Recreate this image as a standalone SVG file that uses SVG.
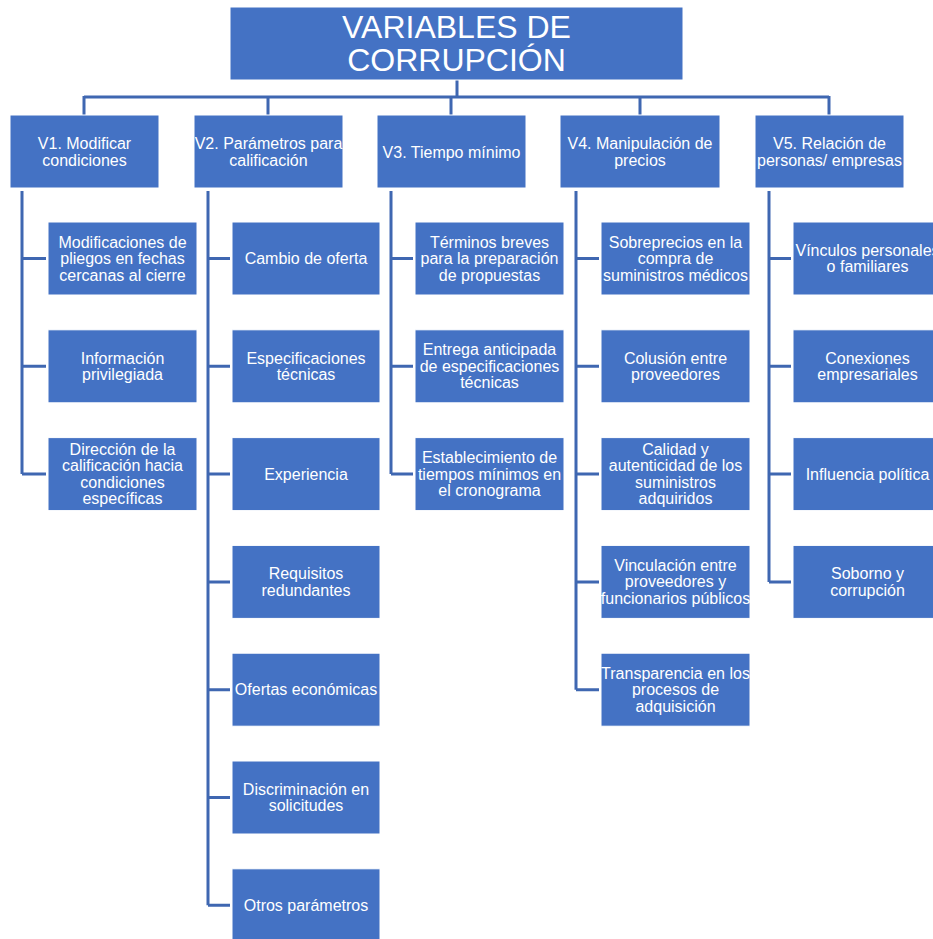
<svg xmlns="http://www.w3.org/2000/svg" width="933" height="939" viewBox="0 0 933 939">
<style>
.b{fill:#4472C4;stroke:#ffffff;stroke-width:1}
.t{font-family:"Liberation Sans",Arial,sans-serif;font-size:16px;fill:#ffffff;text-anchor:middle}
.h{font-family:"Liberation Sans",Arial,sans-serif;font-size:32px;fill:#ffffff;text-anchor:middle}
.c{fill:none;stroke:#3F67B1;stroke-width:3}
</style>
<rect width="933" height="939" fill="#ffffff"/>
<g id="connectors">
<path class="c" d="M457 80V97M84 97H829M84 96V115M268 96V115M451 96V115M640 96V115M829 96V115"/>
<path class="c" d="M22 191V474.1M22 258.5H46M22 366.3H46M22 474.1H46"/>
<path class="c" d="M208 191V905.3M208 258.5H230M208 366.3H230M208 474.1H230M208 581.9H230M208 689.7H230M208 797.5H230M208 905.3H230"/>
<path class="c" d="M391 191V474.1M391 258.5H413M391 366.3H413M391 474.1H413"/>
<path class="c" d="M576 191V689.7M576 258.5H599M576 366.3H599M576 474.1H599M576 581.9H599M576 689.7H599"/>
<path class="c" d="M769 191V581.9M769 258.5H791M769 366.3H791M769 474.1H791M769 581.9H791"/>
</g>
<g id="root"><rect class="b" x="230" y="7" width="453" height="73"/><text class="h"><tspan x="456.5" y="38">VARIABLES DE</tspan><tspan x="456.5" y="71">CORRUPCIÓN</tspan></text></g>
<g id="v1"><rect class="b" x="10" y="115" width="149" height="73"/><text class="t"><tspan x="84.5" y="149">V1. Modificar</tspan><tspan x="84.5" y="165.5">condiciones</tspan></text></g>
<g id="v2"><rect class="b" x="194" y="115" width="149" height="73"/><text class="t"><tspan x="268.5" y="149">V2. Parámetros para</tspan><tspan x="268.5" y="165.5">calificación</tspan></text></g>
<g id="v3"><rect class="b" x="377" y="115" width="149" height="73"/><text class="t"><tspan x="451.5" y="157.5">V3. Tiempo mínimo</tspan></text></g>
<g id="v4"><rect class="b" x="560" y="115" width="160" height="73"/><text class="t"><tspan x="640" y="149">V4. Manipulación de</tspan><tspan x="640" y="165.5">precios</tspan></text></g>
<g id="v5"><rect class="b" x="755" y="115" width="149" height="73"/><text class="t"><tspan x="829.5" y="149">V5. Relación de</tspan><tspan x="829.5" y="165.5">personas/ empresas</tspan></text></g>

<g id="v1a"><rect class="b" x="48" y="222" width="149" height="73"/><text class="t"><tspan x="122.5" y="247.5">Modificaciones de</tspan><tspan x="122.5" y="264">pliegos en fechas</tspan><tspan x="122.5" y="280.5">cercanas al cierre</tspan></text></g>
<g id="v1b"><rect class="b" x="48" y="329.8" width="149" height="73"/><text class="t"><tspan x="122.5" y="363.5">Información</tspan><tspan x="122.5" y="380">privilegiada</tspan></text></g>
<g id="v1c"><rect class="b" x="48" y="437.6" width="149" height="73"/><text class="t"><tspan x="122.5" y="454.8">Dirección de la</tspan><tspan x="122.5" y="471.3">calificación hacia</tspan><tspan x="122.5" y="487.8">condiciones</tspan><tspan x="122.5" y="504.3">específicas</tspan></text></g>

<g id="v2a"><rect class="b" x="232" y="222" width="148" height="73"/><text class="t"><tspan x="306" y="264">Cambio de oferta</tspan></text></g>
<g id="v2b"><rect class="b" x="232" y="329.8" width="148" height="73"/><text class="t"><tspan x="306" y="363.5">Especificaciones</tspan><tspan x="306" y="380">técnicas</tspan></text></g>
<g id="v2c"><rect class="b" x="232" y="437.6" width="148" height="73"/><text class="t"><tspan x="306" y="479.6">Experiencia</tspan></text></g>
<g id="v2d"><rect class="b" x="232" y="545.4" width="148" height="73"/><text class="t"><tspan x="306" y="579.1">Requisitos</tspan><tspan x="306" y="595.6">redundantes</tspan></text></g>
<g id="v2e"><rect class="b" x="232" y="653.2" width="148" height="73"/><text class="t"><tspan x="306" y="695.2">Ofertas económicas</tspan></text></g>
<g id="v2f"><rect class="b" x="232" y="761" width="148" height="73"/><text class="t"><tspan x="306" y="794.7">Discriminación en</tspan><tspan x="306" y="811.2">solicitudes</tspan></text></g>
<g id="v2g"><rect class="b" x="232" y="868.8" width="148" height="73"/><text class="t"><tspan x="306" y="910.8">Otros parámetros</tspan></text></g>

<g id="v3a"><rect class="b" x="415" y="222" width="149" height="73"/><text class="t"><tspan x="489.5" y="247.5">Términos breves</tspan><tspan x="489.5" y="264">para la preparación</tspan><tspan x="489.5" y="280.5">de propuestas</tspan></text></g>
<g id="v3b"><rect class="b" x="415" y="329.8" width="149" height="73"/><text class="t"><tspan x="489.5" y="355.3">Entrega anticipada</tspan><tspan x="489.5" y="371.8">de especificaciones</tspan><tspan x="489.5" y="388.3">técnicas</tspan></text></g>
<g id="v3c"><rect class="b" x="415" y="437.6" width="149" height="73"/><text class="t"><tspan x="489.5" y="463.1">Establecimiento de</tspan><tspan x="489.5" y="479.6">tiempos mínimos en</tspan><tspan x="489.5" y="496.1">el cronograma</tspan></text></g>

<g id="v4a"><rect class="b" x="601" y="222" width="149" height="73"/><text class="t"><tspan x="675.5" y="247.5">Sobreprecios en la</tspan><tspan x="675.5" y="264">compra de</tspan><tspan x="675.5" y="280.5">suministros médicos</tspan></text></g>
<g id="v4b"><rect class="b" x="601" y="329.8" width="149" height="73"/><text class="t"><tspan x="675.5" y="363.5">Colusión entre</tspan><tspan x="675.5" y="380">proveedores</tspan></text></g>
<g id="v4c"><rect class="b" x="601" y="437.6" width="149" height="73"/><text class="t"><tspan x="675.5" y="454.8">Calidad y</tspan><tspan x="675.5" y="471.3">autenticidad de los</tspan><tspan x="675.5" y="487.8">suministros</tspan><tspan x="675.5" y="504.3">adquiridos</tspan></text></g>
<g id="v4d"><rect class="b" x="601" y="545.4" width="149" height="73"/><text class="t"><tspan x="675.5" y="570.9">Vinculación entre</tspan><tspan x="675.5" y="587.4">proveedores y</tspan><tspan x="675.5" y="603.9">funcionarios públicos</tspan></text></g>
<g id="v4e"><rect class="b" x="601" y="653.2" width="149" height="73"/><text class="t"><tspan x="675.5" y="678.7">Transparencia en los</tspan><tspan x="675.5" y="695.2">procesos de</tspan><tspan x="675.5" y="711.7">adquisición</tspan></text></g>

<g id="v5a"><rect class="b" x="793" y="222" width="149" height="73"/><text class="t"><tspan x="867.5" y="255.7">Vínculos personales</tspan><tspan x="867.5" y="272.2">o familiares</tspan></text></g>
<g id="v5b"><rect class="b" x="793" y="329.8" width="149" height="73"/><text class="t"><tspan x="867.5" y="363.5">Conexiones</tspan><tspan x="867.5" y="380">empresariales</tspan></text></g>
<g id="v5c"><rect class="b" x="793" y="437.6" width="149" height="73"/><text class="t"><tspan x="867.5" y="479.6">Influencia política</tspan></text></g>
<g id="v5d"><rect class="b" x="793" y="545.4" width="149" height="73"/><text class="t"><tspan x="867.5" y="579.1">Soborno y</tspan><tspan x="867.5" y="595.6">corrupción</tspan></text></g>
</svg>
